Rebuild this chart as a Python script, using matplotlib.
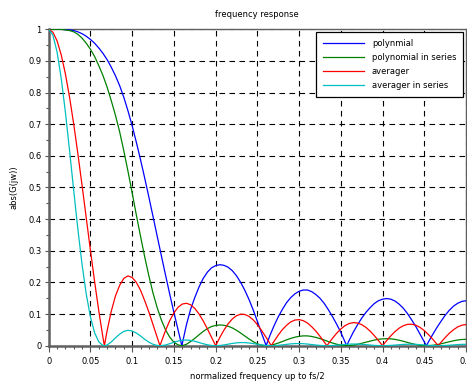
import numpy as np
import matplotlib
matplotlib.use("Agg")
import matplotlib.pyplot as plt
from matplotlib.ticker import MultipleLocator

# frequency grid (normalized, up to fs/2) on which the curves were read
FREQ = np.round(np.arange(0, 0.5001, 0.005), 4)

# frequencies where the curves touch zero (between grid points)
POLY_ZEROS = [0.1595, 0.2605, 0.357, 0.4525]
AVG_ZEROS = [0.0667, 0.1333, 0.2667, 0.3333, 0.4667]

POLY = [
    1.0, 1.0, 1.0, 1.0, 0.999, 0.998, 0.996, 0.992, 0.986, 0.978, 0.968, 0.956,
    0.941, 0.924, 0.904, 0.880, 0.853, 0.822, 0.785, 0.742, 0.695, 0.643, 0.588,
    0.530, 0.470, 0.408, 0.346, 0.284, 0.223, 0.163, 0.105, 0.050,
    0.006, 0.066, 0.115, 0.152, 0.185, 0.212, 0.232, 0.246, 0.253, 0.256, 0.254,
    0.248, 0.237, 0.221, 0.200, 0.175, 0.146, 0.113, 0.077, 0.040, 0.004,
    0.032, 0.063, 0.091, 0.115, 0.136, 0.152, 0.164, 0.172, 0.176, 0.176, 0.171,
    0.162, 0.150, 0.134, 0.114, 0.092, 0.068, 0.042, 0.012,
    0.017, 0.043, 0.066, 0.087, 0.105, 0.120, 0.133, 0.142, 0.147, 0.149, 0.147,
    0.141, 0.131, 0.118, 0.101, 0.081, 0.060, 0.036, 0.012,
    0.012, 0.035, 0.057, 0.077, 0.096, 0.112, 0.125, 0.134, 0.140, 0.142,
]

POLY_SERIES = [
    1.0, 1.0, 1.0, 1.0, 0.998, 0.996, 0.992, 0.984, 0.972, 0.956, 0.937, 0.914,
    0.885, 0.854, 0.817, 0.774, 0.728, 0.676, 0.616, 0.551, 0.483, 0.413, 0.346,
    0.281, 0.221, 0.166, 0.120, 0.081, 0.050, 0.027, 0.011, 0.0025,
    0.0, 0.0044, 0.0132, 0.0231, 0.0342, 0.0449, 0.0538, 0.0605, 0.0640, 0.0655,
    0.0645, 0.0615, 0.0562, 0.0488, 0.0400, 0.0306, 0.0213, 0.0128, 0.0059,
    0.0016, 0.0,
    0.0010, 0.0040, 0.0083, 0.0132, 0.0185, 0.0231, 0.0269, 0.0296, 0.0310,
    0.0310, 0.0292, 0.0262, 0.0225, 0.0180, 0.0130, 0.0085, 0.0046, 0.0018, 0.0001,
    0.0003, 0.0018, 0.0044, 0.0076, 0.0110, 0.0144, 0.0177, 0.0202, 0.0216,
    0.0222, 0.0216, 0.0199, 0.0172, 0.0139, 0.0102, 0.0066, 0.0036, 0.0013, 0.0001,
    0.0001, 0.0012, 0.0032, 0.0059, 0.0092, 0.0125, 0.0156, 0.0180, 0.0196, 0.0202,
]

AVG = [
    1.0, 0.9908, 0.9636, 0.9191, 0.8590, 0.7850, 0.6997, 0.6057, 0.5059, 0.4034,
    0.3014, 0.2026, 0.1099, 0.0258,
    0.0478, 0.1093, 0.1576, 0.1907, 0.2129, 0.2205, 0.2157, 0.2001, 0.1754,
    0.1423, 0.1064, 0.0667, 0.0263,
    0.0127, 0.0484, 0.0792, 0.1038, 0.1215, 0.1316, 0.1341, 0.1294, 0.1179,
    0.1007, 0.0789, 0.0538, 0.0271,
    0.0, 0.0259, 0.0494, 0.0692, 0.0846, 0.0948, 0.0996, 0.0988, 0.0926, 0.0817,
    0.0667, 0.0485, 0.0283, 0.0071,
    0.0139, 0.0336, 0.0509, 0.0645, 0.0752, 0.0811, 0.0824, 0.0792, 0.0718,
    0.0602, 0.0464, 0.0299, 0.0121,
    0.0060, 0.0235, 0.0394, 0.0529, 0.0633, 0.0701, 0.0729, 0.0717, 0.0667,
    0.0580, 0.0463, 0.0322, 0.0165,
    0.0, 0.0163, 0.0315, 0.0449, 0.0557, 0.0633, 0.0675, 0.0679, 0.0645, 0.0577,
    0.0477, 0.0352, 0.0208, 0.0053,
    0.0105, 0.0256, 0.0393, 0.0504, 0.0594, 0.0648, 0.0667,
]

AVG_SERIES = [
    1.0, 0.9817, 0.9285, 0.8447, 0.7379, 0.6162, 0.4896, 0.3669, 0.2559, 0.1627,
    0.0908, 0.0410, 0.0121, 0.0007,
    0.0023, 0.0119, 0.0248, 0.0364, 0.0453, 0.0486, 0.0465, 0.0400, 0.0308,
    0.0202, 0.0113, 0.0044, 0.0007,
    0.0002, 0.0023, 0.0063, 0.0108, 0.0148, 0.0173, 0.0180, 0.0167, 0.0139,
    0.0101, 0.0062, 0.0029, 0.0007,
    0.0, 0.0007, 0.0024, 0.0048, 0.0072, 0.0090, 0.0099, 0.0098, 0.0086, 0.0067,
    0.0044, 0.0024, 0.0008, 0.0001,
    0.0002, 0.0011, 0.0026, 0.0042, 0.0057, 0.0066, 0.0068, 0.0063, 0.0052,
    0.0036, 0.0022, 0.0009, 0.0001,
    0.0000, 0.0006, 0.0016, 0.0028, 0.0040, 0.0049, 0.0053, 0.0051, 0.0044,
    0.0034, 0.0021, 0.0010, 0.0003,
    0.0, 0.0003, 0.0010, 0.0020, 0.0031, 0.0040, 0.0046, 0.0046, 0.0042, 0.0033,
    0.0023, 0.0012, 0.0004, 0.0000,
    0.0001, 0.0007, 0.0015, 0.0025, 0.0035, 0.0042, 0.0044,
]

SERIES = [
    ("polynmial", POLY, POLY_ZEROS, "#0000ff"),
    ("polynomial in series", POLY_SERIES, POLY_ZEROS, "#008000"),
    ("averager", AVG, AVG_ZEROS, "#ff0000"),
    ("averager in series", AVG_SERIES, AVG_ZEROS, "#00bfbf"),
]

X_TICKS = [0, 0.05, 0.1, 0.15, 0.2, 0.25, 0.3, 0.35, 0.4, 0.45, 0.5]
X_TICK_LABELS = ["0", "0.05", "0.1", "0.15", "0.2", "0.25", "0.3", "0.35", "0.4", "0.45", "0.5"]
Y_TICKS = [0, 0.1, 0.2, 0.3, 0.4, 0.5, 0.6, 0.7, 0.8, 0.9, 1]
Y_TICK_LABELS = ["0", "0.1", "0.2", "0.3", "0.4", "0.5", "0.6", "0.7", "0.8", "0.9", "1"]


def with_zeros(values, zeros):
    x = np.concatenate([FREQ, zeros])
    y = np.concatenate([values, np.zeros(len(zeros))])
    order = np.argsort(x, kind="stable")
    return x[order], y[order]


plt.rcParams["font.family"] = "DejaVu Sans"
fig = plt.figure(figsize=(4.67, 3.83), dpi=100)
ax = fig.add_axes([0.1043, 0.0974, 0.8936, 0.8261])

for label, values, zeros, color in SERIES:
    x, y = with_zeros(values, zeros)
    ax.plot(x, y, color=color, lw=0.9, label=label, zorder=3)

ax.set_xlim(0, 0.5)
ax.set_ylim(0, 1)
ax.set_xticks(X_TICKS)
ax.set_xticklabels(X_TICK_LABELS)
ax.set_yticks(Y_TICKS)
ax.set_yticklabels(Y_TICK_LABELS)
ax.xaxis.set_minor_locator(MultipleLocator(0.01))
ax.yaxis.set_minor_locator(MultipleLocator(0.05))
ax.tick_params(which="both", direction="out", colors="#555555", labelcolor="black",
               labelsize=6, top=False, right=False)
ax.tick_params(axis="x", which="major", length=4, width=0.8, pad=4)
ax.tick_params(axis="y", which="major", length=3, width=0.8, pad=2)
ax.tick_params(which="minor", length=2, width=0.8)

ax.grid(True, which="major", color="black", linestyle=(0, (5, 4)), lw=0.8, zorder=1)

for side in ["left", "bottom"]:
    ax.spines[side].set_linewidth(1.8)
    ax.spines[side].set_color("#606060")
for side in ["top", "right"]:
    ax.spines[side].set_linewidth(1.0)
    ax.spines[side].set_color("#606060")

leg = ax.legend(loc="upper right", bbox_to_anchor=(0.993, 0.991), borderaxespad=0,
                fontsize=6, handlelength=4.9, handletextpad=1.0, labelspacing=0.62,
                borderpad=0.8, fancybox=False, framealpha=1, edgecolor="black")
leg.get_frame().set_linewidth(0.9)

fig.text(0.551, 0.963, "frequency response", ha="center", va="center", fontsize=6)
fig.text(0.551, 0.0157, "normalized frequency up to fs/2", ha="center", va="center", fontsize=6)
fig.text(0.030, 0.512, "abs(G(jw))", ha="center", va="center", rotation=90, fontsize=6)

fig.savefig("out.png", dpi=100)
